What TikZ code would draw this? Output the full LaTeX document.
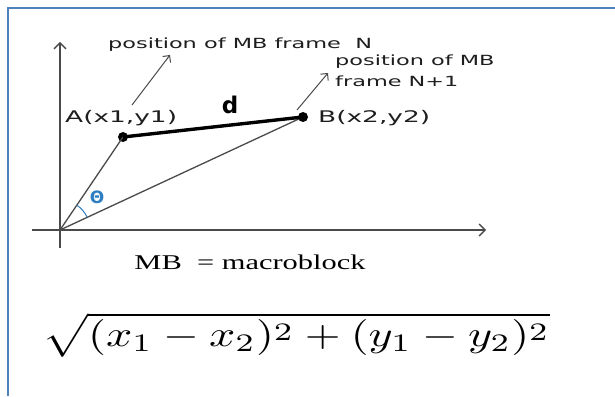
\documentclass[tikz,border=0pt]{standalone}
\usepackage{fontspec}
\usepackage{tikz}
\usetikzlibrary{calc,positioning,arrows.meta}
\newfontfamily\lblfont[FakeStretch=1.6]{DejaVu Sans}
\newfontfamily\ptfont[FakeStretch=1.65]{DejaVu Sans}
\newfontfamily\dfont{DejaVu Sans}
\newfontfamily\notefont[FakeStretch=1.45]{Liberation Serif}
\definecolor{frameblue}{HTML}{4F81BD}
\definecolor{axisgray}{HTML}{4A4A4A}
\definecolor{textdark}{HTML}{1E1E1E}
\definecolor{thetablue}{HTML}{2F7EC1}
\newcommand{\lowsq}{^{\lower2pt\hbox{$\scriptstyle 2$}}}

\begin{document}
\begin{tikzpicture}[x=1pt, y=1pt,
      every node/.style={inner sep=0pt, text=textdark},
      axis/.style={draw=axisgray, line width=1.6pt, -{Straight Barb[length=6pt,width=12pt,line width=1.4pt]}},
      ray/.style={draw=axisgray, line width=1.3pt},
      pointer/.style={draw=axisgray, line width=1pt, -{Straight Barb[length=5pt,width=10pt]}},
      dot/.style={circle, fill=black, minimum size=10pt},
      poslbl/.style={font=\lblfont\fontsize{14}{21}\selectfont, align=left},
      ptlbl/.style={font=\ptfont\fontsize{16}{16}\selectfont}
    ]
      \useasboundingbox (0,0) rectangle (615,396);
      % frame
      \draw[frameblue, line width=2.4pt] (8,0) -- (8,388) -- (615,388);

      % axes
      \coordinate (O) at (60,166);
      \coordinate (xbeg) at (32,166);
      \coordinate (xend) at (486,166);
      \coordinate (ybeg) at (60,148);
      \coordinate (yend) at (60,354);
      \draw[axis] (xbeg) -- (xend);
      \draw[axis] (ybeg) -- (yend);

      % the two positions
      \node[dot] (A) at (123,259) {};
      \node[dot] (B) at (303,279) {};
      \draw[ray] (O) -- (A.center);
      \draw[ray] (O) -- (B.center);
      \draw[black, line width=3.4pt] (A.center) -- (B.center);
      \node[font=\dfont\bfseries\fontsize{23}{23}\selectfont, text=black] (d) at (230,291) {d};
      \node[ptlbl, anchor=west] (Alab) at (65,278) {A(x1,y1)};
      \node[ptlbl, anchor=west] (Blab) at (318,278) {B(x2,y2)};

      % angle
      \draw[thetablue, line width=1pt] ($(O)+(25:30)$) arc[start angle=25, end angle=56, radius=30];
      \node[font=\dfont\bfseries\fontsize{17}{17}\selectfont, text=thetablue] (theta) at (97,199) {Θ};

      % frame labels
      \node[poslbl, anchor=west] (posN) at (108,351) {position of MB frame~~N};
      \node[poslbl, anchor=north west] (posM) at (335,341) {position of MB\\frame N+1};
      \coordinate (tailN) at (132,291);
      \coordinate (headN) at (170,341);
      \coordinate (tailM) at (297,286);
      \coordinate (headM) at (328,323);
      \draw[pointer] (tailN) -- (headN);
      \draw[pointer] (tailM) -- (headM);

      \node[font=\notefont\fontsize{21}{21}\selectfont, text=black] (mb) at (250,134) {MB~~= macroblock};
      \node[text=black] (dist) at (296,61)
        {\scalebox{4.6}[3.6]{$\sqrt{\vphantom{(}\smash{(x_1-x_2)\lowsq+(y_1-y_2)\lowsq}}$}};
    \end{tikzpicture}
\end{document}
